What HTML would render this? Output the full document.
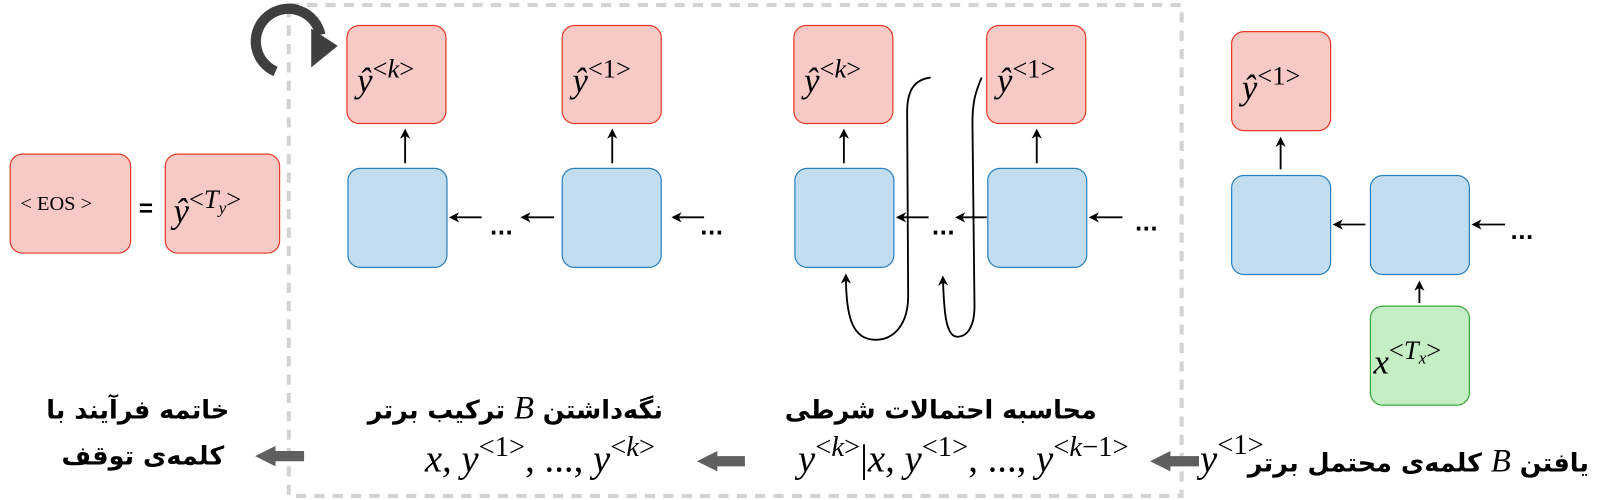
<!DOCTYPE html>
<html><head><meta charset="utf-8"><style>
html,body{margin:0;padding:0;background:#fff;}
svg{display:block}
.m{font-family:"Liberation Serif",serif;font-style:italic;}
.f{font-family:"DejaVu Sans","Liberation Sans",sans-serif;font-weight:bold;}
</style></head><body>
<svg width="1600" height="500" viewBox="0 0 1568 490" xmlns="http://www.w3.org/2000/svg">
<defs>
<marker id="a" markerWidth="10" markerHeight="10" refX="8" refY="5" orient="auto" markerUnits="userSpaceOnUse">
<path d="M0,0 L10,5 L0,10 L3,5 z" fill="#000"/></marker>
</defs>
<rect x="283" y="5" width="875" height="481" fill="none" stroke="#d3d3d3" stroke-width="4" stroke-dasharray="10,8"/>
<path d="M270,70 A32,32 0 1 1 314,34" fill="none" stroke="#3f3f3f" stroke-width="10"/>
<path d="M305,28 L331,45 L305,66 z" fill="#3f3f3f"/>

<g stroke-width="1.2">
<rect x="10" y="151" width="118" height="97" rx="12" fill="#f8cac5" stroke="#e8392c"/>
<rect x="162" y="151" width="112" height="97" rx="12" fill="#f8cac5" stroke="#e8392c"/>
<rect x="340" y="25" width="97" height="96" rx="12" fill="#f8cac5" stroke="#e8392c"/>
<rect x="551" y="25" width="97" height="96" rx="12" fill="#f8cac5" stroke="#e8392c"/>
<rect x="778" y="25" width="97" height="96" rx="12" fill="#f8cac5" stroke="#e8392c"/>
<rect x="967" y="25" width="97" height="96" rx="12" fill="#f8cac5" stroke="#e8392c"/>
<rect x="1207" y="31" width="97" height="97" rx="12" fill="#f8cac5" stroke="#e8392c"/>
<rect x="341" y="165" width="97" height="97" rx="12" fill="#c2ddef" stroke="#2a80c0"/>
<rect x="551" y="165" width="97" height="97" rx="12" fill="#c2ddef" stroke="#2a80c0"/>
<rect x="779" y="165" width="97" height="97" rx="12" fill="#c2ddef" stroke="#2a80c0"/>
<rect x="968" y="165" width="97" height="97" rx="12" fill="#c2ddef" stroke="#2a80c0"/>
<rect x="1207" y="172" width="97" height="97" rx="12" fill="#c2ddef" stroke="#2a80c0"/>
<rect x="1343" y="172" width="97" height="97" rx="12" fill="#c2ddef" stroke="#2a80c0"/>
<rect x="1343" y="300" width="97" height="97" rx="12" fill="#c6eec4" stroke="#3aa83a"/>
</g>

<g class="m" font-size="34" fill="#000">
<text x="20" y="206" font-style="normal" font-size="20">&lt; EOS &gt;</text>
<text x="136" y="212" font-style="normal" font-size="24" font-weight="bold" font-family="Liberation Sans">=</text>
<text x="170" y="218">ŷ<tspan font-size="26" dy="-14" font-style="normal">&lt;</tspan><tspan font-size="26">T</tspan><tspan font-size="17" dy="5">y</tspan><tspan font-size="26" dy="-5" font-style="normal">&gt;</tspan></text>
<text x="350" y="90">ŷ<tspan font-size="26" dy="-14"><tspan font-style="normal">&lt;</tspan>k<tspan font-style="normal">&gt;</tspan></tspan></text>
<text x="561" y="90">ŷ<tspan font-size="26" dy="-14" font-style="normal">&lt;1&gt;</tspan></text>
<text x="788" y="90">ŷ<tspan font-size="26" dy="-14"><tspan font-style="normal">&lt;</tspan>k<tspan font-style="normal">&gt;</tspan></tspan></text>
<text x="977" y="90">ŷ<tspan font-size="26" dy="-14" font-style="normal">&lt;1&gt;</tspan></text>
<text x="1217" y="97">ŷ<tspan font-size="26" dy="-14" font-style="normal">&lt;1&gt;</tspan></text>
<text x="1346" y="366">x<tspan font-size="26" dy="-14"><tspan font-style="normal">&lt;</tspan>T<tspan font-size="17" dy="4">x</tspan><tspan font-style="normal" dy="-4">&gt;</tspan></tspan></text>
</g>

<g stroke="#000" stroke-width="1.8" fill="none" marker-end="url(#a)">
<line x1="397" y1="160" x2="397" y2="128"/>
<line x1="600" y1="160" x2="600" y2="128"/>
<line x1="827" y1="160" x2="827" y2="128"/>
<line x1="1016" y1="160" x2="1016" y2="128"/>
<line x1="1255" y1="166" x2="1255" y2="136"/>
<line x1="1391" y1="297" x2="1391" y2="277"/>
<line x1="472" y1="213" x2="442" y2="213"/>
<line x1="543" y1="213" x2="512" y2="213"/>
<line x1="690" y1="213" x2="660" y2="213"/>
<line x1="910" y1="213" x2="880" y2="213"/>
<line x1="967" y1="213" x2="938" y2="213"/>
<line x1="1100" y1="213" x2="1069" y2="213"/>
<line x1="1338" y1="220" x2="1308" y2="220"/>
<line x1="1475" y1="220" x2="1444" y2="220"/>
<path d="M912,76 C895,78 889,90 889,110 L890,290 C890,318 876,333 858,333 C835,333 829,310 829,270"/>
<path d="M962,76 C956,90 953,100 953,120 L955,300 C955,320 948,330 938,330 C926,330 925,300 924,272"/>
</g>
<g class="f" font-size="20">
<text x="480" y="230">...</text>
<text x="686" y="230">...</text>
<text x="913" y="230">...</text>
<text x="1112" y="226">...</text>
<text x="1480" y="234">...</text>
</g>

<g fill="#5f5f5f">
<path d="M298,442 L270,442 L270,437 L250,447 L270,457 L270,452 L298,452 z"/>
<path d="M730,447 L703,447 L703,442 L683,452 L703,462 L703,457 L730,457 z"/>
<path d="M1175,447 L1147,447 L1147,442 L1127,452 L1147,462 L1147,457 L1175,457 z"/>
</g>

<g font-family="'DejaVu Sans','Noto Sans CJK SC',sans-serif" font-size="25" fill="#000" text-anchor="middle" font-weight="bold">
<text x="135" y="410" direction="rtl">خاتمه فرآیند با</text>
<text x="140" y="455" direction="rtl">کلمه‌ی توقف</text>
<text x="505" y="410" direction="rtl">نگه‌داشتن <tspan class="m" font-weight="normal" font-size="32">B</tspan> ترکیب برتر</text>
<text x="922" y="410" direction="rtl">محاسبه احتمالات شرطی</text>
<text x="1390" y="462" direction="rtl">یافتن <tspan class="m" font-weight="normal" font-size="32">B</tspan> کلمه‌ی محتمل برتر</text>
</g>
<g class="m" font-size="38" fill="#000">
<text x="642" y="462" text-anchor="end">x, y<tspan font-size="28" dy="-15" font-style="normal">&lt;1&gt;</tspan><tspan dy="15" font-style="normal">, ..., </tspan>y<tspan font-size="28" dy="-15"><tspan font-style="normal">&lt;</tspan>k<tspan font-style="normal">&gt;</tspan></tspan></text>
<text x="1106" y="462" text-anchor="end">y<tspan font-size="28" dy="-15"><tspan font-style="normal">&lt;</tspan>k<tspan font-style="normal">&gt;</tspan></tspan><tspan dy="15" font-style="normal">|</tspan>x, y<tspan font-size="28" dy="-15" font-style="normal">&lt;1&gt;</tspan><tspan dy="15" font-style="normal">, ..., </tspan>y<tspan font-size="28" dy="-15"><tspan font-style="normal">&lt;</tspan>k<tspan font-style="normal">−1&gt;</tspan></tspan></text>
<text x="1176" y="462">y<tspan font-size="28" dy="-17" font-style="normal">&lt;1&gt;</tspan></text>
</g>
</svg>
</body></html>
